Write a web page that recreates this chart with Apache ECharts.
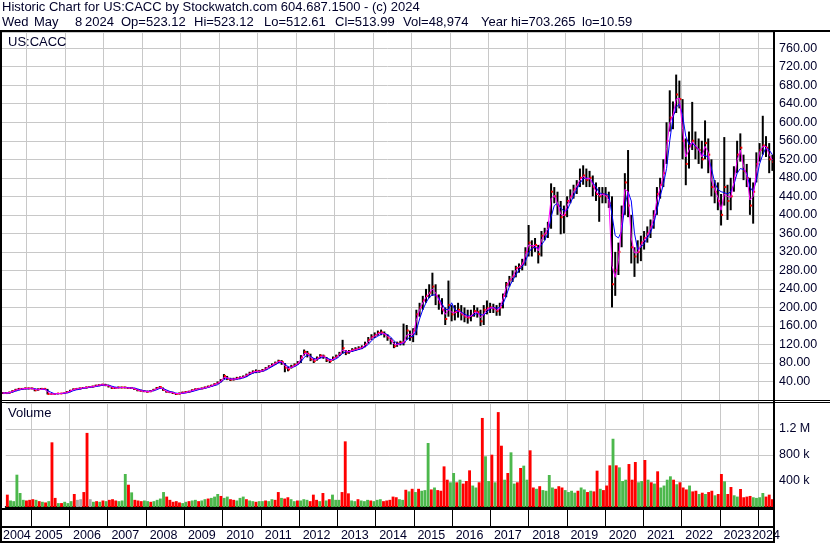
<!DOCTYPE html>
<html><head><meta charset="utf-8">
<script src="https://cdn.jsdelivr.net/npm/echarts@6/dist/echarts.min.js"></script>
<style>html,body{margin:0;padding:0;background:#fff}#c{width:830px;height:543px}</style>
</head><body><div id="c"></div>
<script>
// ---- DATA (monthly, May 2004 .. May 2024) ----
const years = ['2004','2005','2006','2007','2008','2009','2010','2011','2012','2013','2014','2015','2016','2017','2018','2019','2020','2021','2022','2023','2024'];
const close = [
 15,15,16,19,22,24,24,25,
 25,25,21,23,24,24,13,13,13,14,14,15,
 17,20,23,24,25,26,27,28,29,31,32,33,
 32,30,26,26,27,27,27,26,26,24,21,20,
 19,18,19,22,26,28,22,18,17,15,13,14,
 16,17,18,21,23,24,25,27,29,31,34,37,
 42,52,46,44,45,47,48,50,54,58,61,62,
 62,64,68,72,76,80,84,82,70,66,72,76,
 80,92,104,100,88,84,90,96,94,86,84,90,
 94,100,112,102,105,108,110,112,114,120,130,136,
 140,145,146,142,135,128,116,122,124,125,150,136,
 150,185,200,215,225,232,245,225,210,195,175,205,
 185,190,195,185,180,178,182,192,190,170,195,198,
 200,198,192,200,225,250,260,268,285,288,295,320,
 340,330,335,315,355,360,375,450,440,420,395,400,
 430,440,455,465,480,485,475,480,460,445,440,445,
 440,425,250,280,320,400,470,420,330,310,320,340,
 350,360,375,400,445,465,490,560,610,620,660,650,
 560,510,550,560,545,540,520,555,530,460,450,430,
 400,460,430,440,480,530,545,495,480,420,450,510,
 540,550,545,520,514];
const high = [
 17,17,18,21,24,26,26,27,
 27,27,25,25,26,26,24,14,14,15,15,16,
 19,22,25,26,27,28,29,30,31,33,34,35,
 35,33,29,28,29,29,29,28,28,26,24,22,
 21,20,21,24,28,30,27,20,19,18,15,16,
 18,19,20,23,25,26,27,29,31,33,36,40,
 45,56,52,48,48,50,51,53,57,61,64,66,
 65,67,71,75,79,83,87,86,80,72,76,79,
 84,97,109,106,100,90,94,99,98,93,88,94,
 98,104,130,108,108,112,114,116,118,126,136,142,
 146,150,152,148,142,134,126,126,128,165,162,150,
 155,195,210,225,240,250,275,250,228,220,200,258,
 205,205,210,205,200,195,195,205,200,195,205,215,
 210,208,205,210,230,255,268,280,290,295,305,330,
 378,345,350,335,365,372,385,468,460,450,430,420,
 440,455,465,475,500,507,500,495,485,470,460,460,
 460,450,440,320,340,420,490,540,400,330,345,355,
 365,375,390,410,460,480,520,600,669,645,703,690,
 650,565,580,644,580,565,560,604,565,520,475,470,
 445,568,465,480,505,560,576,530,510,480,470,535,
 555,614,570,555,530];
const low = [
 13,14,14,16,19,21,22,23,
 23,23,19,20,22,22,12,12,12,13,13,14,
 15,17,21,22,23,24,25,26,27,29,30,31,
 30,27,24,24,25,25,25,24,24,22,19,18,
 17,16,17,19,23,25,20,16,15,13,11,12,
 14,15,16,18,21,22,23,25,27,29,31,34,
 38,45,43,41,42,44,45,47,50,54,57,58,
 59,61,65,69,72,76,80,76,60,62,68,72,
 76,80,96,92,84,80,85,91,89,82,80,85,
 90,95,100,97,100,104,106,108,110,114,122,130,
 134,139,140,135,128,120,112,115,118,118,130,128,
 125,140,180,195,210,220,225,205,195,185,162,180,
 170,172,178,172,168,165,170,180,178,160,162,185,
 188,188,182,182,198,222,245,255,265,275,280,290,
 310,310,320,295,310,345,350,370,425,400,358,360,
 395,425,435,445,460,465,460,460,440,430,385,425,
 425,415,200,225,270,330,400,395,295,266,295,300,
 325,340,350,370,400,435,460,510,580,585,620,630,
 520,464,500,540,520,510,500,520,490,440,425,410,
 377,420,389,410,450,490,515,475,460,400,381,470,
 515,530,525,490,495];
const maFast = [
 15,15,16,18,21,23,24,25,
 25,25,23,22,23,24,18,13,13,14,14,15,
 16,19,22,24,25,26,27,28,29,30,32,33,
 32,31,28,26,26,27,27,26,26,25,22,20,
 19,18,18,21,24,27,24,19,17,16,14,14,
 15,16,18,20,22,24,25,26,28,30,33,36,
 40,49,48,45,45,46,48,49,53,57,60,62,
 62,63,67,71,75,79,83,83,74,68,70,74,
 78,88,100,101,92,86,88,94,95,89,85,88,
 92,98,108,106,104,107,109,111,113,118,126,134,
 138,143,145,143,138,131,121,119,122,124,140,142,
 142,172,195,210,222,230,240,232,216,200,185,195,
 190,188,193,188,182,179,181,189,190,178,185,196,
 199,199,194,197,218,243,257,265,280,287,292,312,
 335,333,334,322,345,358,370,435,442,425,402,398,
 420,436,450,462,475,483,478,479,466,450,442,444,
 442,432,290,265,300,380,455,450,350,318,318,335,
 345,356,370,392,432,458,482,545,598,615,650,652,
 585,525,540,558,550,542,525,548,535,475,455,438,
 410,445,440,438,470,518,540,505,485,432,440,495,
 535,548,548,530,518];
const maSlow = [
 15,15,15,17,19,21,23,24,
 24,25,24,23,23,23,21,17,14,13,14,14,
 15,17,20,22,23,25,26,27,28,29,30,32,
 32,32,30,28,27,27,27,27,26,26,24,22,
 20,19,19,20,22,25,25,22,19,17,15,14,
 14,15,17,18,20,22,24,25,27,29,31,33,
 38,44,47,46,45,45,46,48,50,54,58,60,
 61,62,64,68,72,76,80,82,78,72,70,72,
 76,82,92,97,95,90,88,90,93,91,88,87,
 89,94,101,104,104,105,107,109,111,115,120,128,
 134,138,142,144,141,136,128,122,121,122,130,136,
 138,150,175,195,210,222,227,227,220,208,196,195,
 210,195,192,190,186,182,181,184,188,185,183,190,
 198,200,198,200,207,225,245,258,270,281,288,299,
 318,328,330,328,335,345,360,395,420,425,415,408,
 410,425,440,455,468,478,480,478,470,460,448,445,
 445,442,400,355,350,365,420,450,430,360,325,330,
 338,350,362,380,410,440,465,500,560,610,632,640,
 615,570,552,555,548,540,530,528,525,500,470,455,
 450,448,445,450,465,490,500,498,490,460,450,475,
 510,530,545,540,530];
// volume in thousands of shares (largest daily bar seen in each month column)
const volume = [
 190,100,90,497,215,110,100,110,
 120,110,90,80,70,90,995,140,60,60,80,60,
 90,200,110,120,230,1140,120,80,90,80,100,90,
 110,120,100,90,100,508,343,225,110,100,90,100,
 90,80,90,110,130,230,160,110,80,90,70,60,
 80,90,100,110,90,100,120,130,140,160,200,170,
 140,160,120,110,100,140,160,120,100,90,80,90,
 90,100,90,120,110,230,140,130,150,120,90,100,
 100,120,110,90,190,110,90,215,100,120,190,110,
 110,230,1010,210,100,90,120,100,90,110,100,90,
 110,120,90,100,110,160,150,120,110,265,240,280,
 230,280,250,260,985,270,300,260,250,625,420,380,
 523,380,420,360,400,564,330,300,380,1370,780,400,
 805,380,1460,943,420,523,841,360,380,600,636,420,
 872,300,280,320,260,250,492,300,280,320,300,260,
 230,250,220,250,300,270,230,250,240,559,280,260,
 330,641,1050,641,610,400,420,661,420,692,380,400,
 723,420,380,360,549,300,330,420,472,420,350,380,
 300,270,330,240,250,200,220,200,230,250,180,200,
 508,395,200,308,180,160,277,150,160,170,150,140,
 150,215,160,190,120];
// bar colour code per month: d = down (red), u = up (green), n = unchanged (grey)
const volDir = [
 'd','u','u','u','u','u','d','d',
 'd','u','d','u','d','u','d','d','u','d','u','u',
 'u','d','n','n','d','d','n','u','d','u','d','u',
 'd','d','d','u','u','u','d','u','d','d','d','u',
 'u','d','u','u','u','u','d','d','d','d','d','u',
 'u','d','u','u','d','u','u','d','u','u','u','d',
 'u','u','d','d','u','u','u','d','u','u','d','u',
 'u','d','u','u','d','d','u','d','d','u','u','d',
 'u','u','u','d','d','d','u','d','u','d','u','u',
 'u','d','d','d','u','u','d','u','u','u','d','u',
 'u','u','d','d','d','d','d','u','u','d','u','d',
 'u','d','u','u','u','d','u','d','d','d','d','u',
 'u','d','u','d','d','d','u','u','d','d','u','u',
 'd','u','d','d','u','d','u','u','d','d','u','u',
 'd','d','u','d','u','u','u','u','d','d','d','u',
 'u','u','u','d','u','u','d','u','d','d','u','d',
 'd','d','u','d','u','u','u','d','d','d','u','u',
 'd','u','d','u','d','u','u','u','u','d','u','d',
 'd','d','u','d','d','u','d','u','d','d','u','d',
 'd','u','d','d','u','u','d','d','d','d','u','u',
 'u','u','d','d','d'];
const priceTicks = {min: 0, max: 795, step: 40};
const volTicks = {min: 0, max: 1600, step: 400};

// ---- build ----
const months = [];
years.forEach(y => {
  for (let m = 1; m <= 12; m++) {
    if ((+y === 2004 && m < 5) || (+y === 2024 && m > 5)) continue;
    months.push(y + '-' + String(m).padStart(2, '0'));
  }
});
const labelAt = new Set(years.map(y => y === '2004' ? '2004-08' : (y === '2024' ? '2024-03' : y + '-06')));
const isJan = (i, v) => v.slice(5) === '01';
const FONT = '"Liberation Sans", Arial, sans-serif';
const TXT = '#00002a';
const GRID = '#c8c8c8';
const colorOf = {d: '#ff0000', u: '#4cb84c', n: '#a8a8a8'};

const chart = echarts.init(document.getElementById('c'), null, {renderer: 'canvas'});

const ohlc = months.map((m, i) => [i, high[i], low[i], close[i]]);

function txt(x, y, s, extra) {
  return Object.assign({type: 'text', x: x, y: y, silent: true,
    style: {text: s, fill: TXT, font: '13px ' + FONT, verticalAlign: 'middle'}}, extra || {});
}
const line2 = [[2,'Wed'],[34,'May'],[75,'8'],[85,'2024'],[121,'Op=523.12'],[194,'Hi=523.12'],[264,'Lo=512.61'],[335,'Cl=513.99'],[403,'Vol=48,974'],[481,'Year hi=703.265'],[582,'lo=10.59']];

const blk = (x, y, w, h) => ({type: 'rect', silent: true, z: 100, shape: {x: x, y: y, width: w, height: h}, style: {fill: '#000'}});

chart.setOption({
  animation: false,
  backgroundColor: '#fff',
  grid: [
    {left: 1, right: 56, top: 32, height: 368},
    {left: 1, right: 56, top: 403, height: 104}
  ],
  xAxis: [
    {type: 'category', gridIndex: 0, data: months, boundaryGap: true,
     axisLine: {show: false}, axisTick: {show: false}, axisLabel: {show: false},
     splitLine: {show: true, interval: isJan, lineStyle: {color: GRID, width: 1}}},
    {type: 'category', gridIndex: 1, data: months, boundaryGap: true,
     axisLine: {show: true, lineStyle: {color: '#000', width: 2}},
     axisTick: {show: true, interval: isJan, length: 19, lineStyle: {color: '#000', width: 1}},
     axisLabel: {show: true, interval: (i, v) => labelAt.has(v), formatter: v => v.slice(0, 4),
       margin: 22, color: TXT, fontSize: 12.5, fontFamily: FONT},
     splitLine: {show: true, interval: isJan, lineStyle: {color: GRID, width: 1}}}
  ],
  yAxis: [
    {type: 'value', gridIndex: 0, position: 'right', min: priceTicks.min, max: priceTicks.max, interval: priceTicks.step,
     axisLine: {show: false}, axisTick: {show: false},
     axisLabel: {showMinLabel: false, showMaxLabel: false, formatter: v => v.toFixed(2), margin: 5,
       color: TXT, fontSize: 12.5, fontFamily: FONT},
     splitLine: {show: true, lineStyle: {color: GRID, width: 1}}},
    {type: 'value', gridIndex: 1, position: 'right', min: volTicks.min, max: volTicks.max, interval: volTicks.step,
     axisLine: {show: false}, axisTick: {show: false},
     axisLabel: {showMinLabel: false, showMaxLabel: false, margin: 5,
       formatter: v => v >= 1000 ? (v / 1000) + ' M' : v + ' k',
       color: TXT, fontSize: 12.5, fontFamily: FONT},
     splitLine: {show: true, lineStyle: {color: GRID, width: 1}}}
  ],
  series: [
    {type: 'custom', xAxisIndex: 0, yAxisIndex: 0, data: ohlc, encode: {x: 0, y: [1, 2]}, clip: true, z: 2,
     renderItem: function (params, api) {
       const hi = api.coord([api.value(0), api.value(1)]);
       const lo = api.coord([api.value(0), api.value(2)]);
       const cl = api.coord([api.value(0), api.value(3)]);
       return {type: 'group', children: [
         {type: 'rect', shape: {x: hi[0] - 1, y: hi[1], width: 2, height: Math.max(1, lo[1] - hi[1])}, style: {fill: '#000'}},
         {type: 'rect', shape: {x: cl[0], y: cl[1] - 1, width: 2, height: 2}, style: {fill: '#ff0000'}}
       ]};
     }},
    {type: 'line', xAxisIndex: 0, yAxisIndex: 0, data: maSlow, symbol: 'none', z: 3,
     lineStyle: {color: '#0000ff', width: 1}},
    {type: 'line', xAxisIndex: 0, yAxisIndex: 0, data: maFast, symbol: 'none', z: 4,
     lineStyle: {color: '#ff00ff', width: 1}},
    {type: 'bar', xAxisIndex: 1, yAxisIndex: 1, barCategoryGap: '10%', z: 2,
     data: volume.map((v, i) => ({value: v, itemStyle: {color: colorOf[volDir[i]]}}))}
  ],
  graphic: [
    txt(2, 7, 'Historic Chart for US:CACC by Stockwatch.com 604.687.1500 - (c) 2024'),
    ...line2.map(p => txt(p[0], 22, p[1])),
    txt(8, 42, 'US:CACC', {z: 101}),
    txt(8, 413, 'Volume', {z: 101}),
    blk(0, 30, 830, 2),
    blk(0, 30, 2, 513),
    blk(773, 30, 2, 513),
    blk(0, 400, 830, 1),
    blk(0, 402, 830, 1),
    blk(0, 508, 775, 2),
    blk(0, 526, 775, 2),
    blk(0, 541, 775, 2)
  ]
});
</script></body></html>
